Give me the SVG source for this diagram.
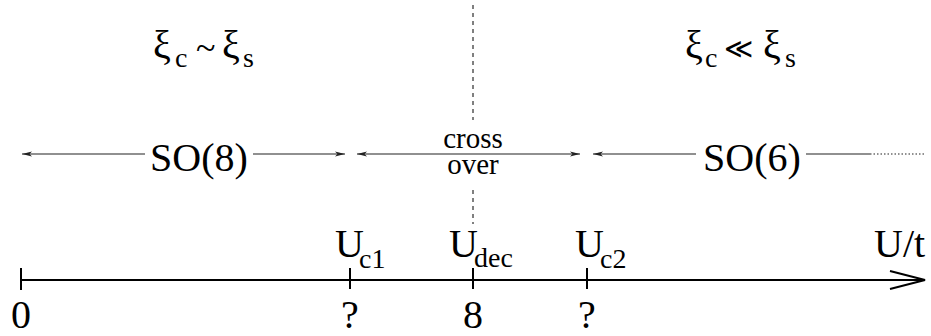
<svg xmlns="http://www.w3.org/2000/svg" width="931" height="336" viewBox="0 0 931 336">
<defs>
<style>
.big{font-size:40px}
.sub{font-size:28px}
.mid{text-anchor:middle}
.thin{stroke:#222;stroke-width:1.2;fill:none}
.axis{stroke:#000;stroke-width:2;fill:none}
.dash{stroke:#000;stroke-width:1;stroke-dasharray:4 4;fill:none}
</style>
<marker id="ah" viewBox="0 0 10 6" refX="10" refY="3" markerWidth="10" markerHeight="6" markerUnits="userSpaceOnUse" orient="auto-start-reverse">
<path d="M0,0.5 L10,3 L0,5.5 L2.5,3 Z" fill="#222"/>
</marker>
</defs>
<g font-family="Times New Roman, Liberation Serif, DejaVu Serif, serif" fill="#000">
<g id="regime-left">
<text class="big" x="153" y="58">ξ<tspan class="sub" x="175" y="67">c</tspan><tspan x="196" y="60" font-size="36">~</tspan><tspan x="222" y="58">ξ</tspan><tspan class="sub" x="243" y="67">s</tspan></text>
</g>
<g id="regime-right">
<text class="big" x="685" y="58">ξ<tspan class="sub" x="705" y="67">c</tspan><tspan class="sub" x="724" y="58">≪</tspan><tspan x="763" y="58">ξ</tspan><tspan class="sub" x="785" y="67">s</tspan></text>
</g>
<g id="so8"><text class="big mid" x="199" y="171">SO(8)</text></g>
<g id="crossover">
<text class="mid" x="473" y="148" font-size="29">cross</text>
<text class="mid" x="473" y="174" font-size="29">over</text>
</g>
<g id="so6"><text class="big mid" x="752" y="171">SO(6)</text></g>
<g id="axis-labels">
<text class="big" x="335" y="257">U<tspan class="sub" x="359" y="268">c1</tspan></text>
<text class="big" x="449" y="257">U<tspan class="sub" x="474" y="267">dec</tspan></text>
<text class="big" x="575" y="257">U<tspan class="sub" x="600" y="268">c2</tspan></text>
<text class="big" x="874" y="257">U/t</text>
<text class="big mid" x="21" y="328">0</text>
<text class="big mid" x="350" y="328">?</text>
<text class="big mid" x="473" y="328">8</text>
<text class="big mid" x="587" y="328">?</text>
</g>
</g>
<g id="connectors">
<line class="dash" x1="473" y1="5" x2="473" y2="120"/>
<line class="dash" x1="473" y1="190" x2="473" y2="224"/>
<line class="thin" x1="22" y1="154" x2="145" y2="154" marker-start="url(#ah)"/>
<line class="thin" x1="253" y1="154" x2="345" y2="154" marker-end="url(#ah)"/>
<line class="thin" x1="357" y1="154" x2="580" y2="154" marker-start="url(#ah)" marker-end="url(#ah)"/>
<line class="thin" x1="593" y1="154" x2="696" y2="154" marker-start="url(#ah)"/>
<line class="thin" x1="806" y1="154" x2="870" y2="154"/>
<line class="thin" x1="870" y1="154" x2="926" y2="154" stroke-dasharray="1.5 2"/>
<line class="axis" x1="21" y1="280" x2="924" y2="280"/>
<polyline class="axis" points="890,271 925,280 890,289"/>
<line class="axis" x1="21" y1="268" x2="21" y2="290"/>
<line class="axis" x1="350" y1="268" x2="350" y2="289"/>
<line class="axis" x1="473" y1="268" x2="473" y2="289"/>
<line class="axis" x1="587" y1="268" x2="587" y2="289"/>
</g>
</svg>
